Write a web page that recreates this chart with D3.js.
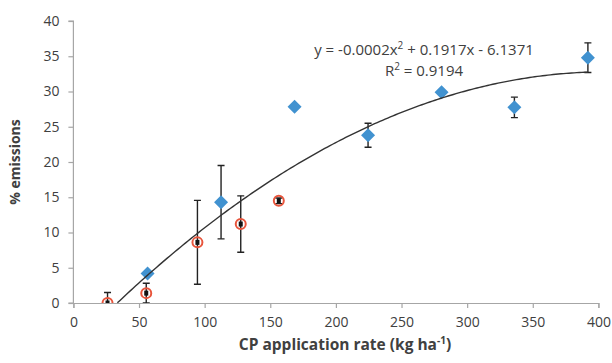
<!DOCTYPE html>
<html>
<head>
<meta charset="utf-8">
<script src="https://cdn.jsdelivr.net/npm/d3@7"></script>
<style>
  body { margin: 0; background: #fff; }
  text { font-family: 'Open Sans', sans-serif; fill: #404040; }
</style>
</head>
<body>
<div id="chart"></div>
<script>
// blue diamonds
const blueX = [56.5, 112.5, 168.5, 224.5, 280.5, 336, 392];
const blueY = [4.2, 14.3, 27.85, 23.8, 29.9, 27.75, 34.8];
const blueErr = [0, 5.2, 0, 1.7, 0.3, 1.45, 2.1];

// red circles (black marker inside)
const redX = [26, 55.5, 94.5, 127.5, 156.5];
const redY = [0, 1.4, 8.6, 11.2, 14.5];
const redErr = [1.5, 1.4, 5.95, 4, 0.4];

const xTicks = [0, 50, 100, 150, 200, 250, 300, 350, 400];
const yTicks = [0, 5, 10, 15, 20, 25, 30, 35, 40];

// polynomial trendline (a, b, c) and its range
const trendCoef = [-0.000236, 0.1917, -6.1371];
const trendRange = [33.5, 392];
const eqLabel = ['y = -0.0002x', '2', ' + 0.1917x - 6.1371'];
const r2Label = ['R', '2', ' = 0.9194'];

const margin = { top: 21, right: 14, bottom: 60, left: 73.4 };
const W = 612, H = 363;

const svg = d3.select('#chart').append('svg')
  .attr('width', W)
  .attr('height', H);

const g = svg.append('g')
  .attr('transform', `translate(${margin.left},${margin.top})`);

const x = d3.scaleLinear().domain([0, 400]).range([0, 525]);
const y = d3.scaleLinear().domain([0, 40]).range([282, 0]);

svg.append('clipPath').attr('id', 'plot')
  .append('rect').attr('x', -10).attr('y', -10).attr('width', 560).attr('height', 292);

// axes
const xAxis = g.append('g')
  .attr('transform', `translate(0,${y(0)})`)
  .call(d3.axisBottom(x).tickValues(xTicks).tickSize(5).tickPadding(9));
const yAxis = g.append('g')
  .call(d3.axisLeft(y).tickValues(yTicks).tickSize(5).tickPadding(9));
[xAxis, yAxis].forEach(a => {
  a.select('.domain').attr('stroke', '#a6a6a6').attr('stroke-width', 1.2);
  a.selectAll('.tick line').attr('stroke', '#a6a6a6').attr('stroke-width', 1.2);
  a.selectAll('.tick text').style('font-size', '14px').attr('fill', '#404040');
});
yAxis.select('.domain').attr('d', `M-5,${y(0)}H0V${y(40)}H-5`);

const plot = g.append('g').attr('clip-path', 'url(#plot)');

function errorBars(xs, ys, es) {
  const bars = plot.append('g').attr('stroke', '#222').attr('stroke-width', 1.4)
    .selectAll('g').data(xs.map((d, i) => ({ x: d, y: ys[i], e: es[i] })).filter(d => d.e > 0))
    .join('g');
  bars.append('line')
    .attr('x1', d => x(d.x)).attr('x2', d => x(d.x))
    .attr('y1', d => y(d.y - d.e)).attr('y2', d => y(d.y + d.e));
  [-1, 1].forEach(s => {
    bars.append('line')
      .attr('x1', d => x(d.x) - 3.5).attr('x2', d => x(d.x) + 3.5)
      .attr('y1', d => y(d.y + s * d.e)).attr('y2', d => y(d.y + s * d.e));
  });
}

errorBars(blueX, blueY, blueErr);
errorBars(redX, redY, redErr);

// blue diamonds
plot.append('g').selectAll('path').data(blueX)
  .join('path')
  .attr('transform', (d, i) => `translate(${x(d)},${y(blueY[i])})`)
  .attr('d', 'M0,-7L7,0L0,7L-7,0Z')
  .attr('fill', '#4192d0');

// black inner markers
plot.append('g').selectAll('rect').data(redX)
  .join('rect')
  .attr('x', d => x(d) - 2).attr('y', (d, i) => y(redY[i]) - 2.5)
  .attr('width', 4).attr('height', 5)
  .attr('fill', '#111');

// red circles
plot.append('g').selectAll('circle').data(redX)
  .join('circle')
  .attr('cx', d => x(d)).attr('cy', (d, i) => y(redY[i]))
  .attr('r', 5)
  .attr('fill', 'none')
  .attr('stroke', '#e8553c')
  .attr('stroke-width', 2);

// trendline
const trendXs = d3.range(trendRange[0], trendRange[1], 2).concat([trendRange[1]]);
const poly = v => trendCoef[0] * v * v + trendCoef[1] * v + trendCoef[2];
g.append('path')
  .datum(trendXs)
  .attr('fill', 'none')
  .attr('stroke', '#333')
  .attr('stroke-width', 1.4)
  .attr('d', d3.line().x(d => x(d)).y(d => y(poly(d))));

// equation text
function supText(parts, tx, ty) {
  const t = svg.append('text')
    .attr('x', tx).attr('y', ty)
    .attr('text-anchor', 'middle')
    .style('font-size', '15px');
  t.append('tspan').text(parts[0]);
  t.append('tspan').text(parts[1]).attr('dy', -6).style('font-size', '10px');
  t.append('tspan').text(parts[2]).attr('dy', 6);
}
supText(eqLabel, 424, 55);
supText(r2Label, 424, 76);

// axis titles
svg.append('text')
  .attr('x', 345).attr('y', 350)
  .attr('text-anchor', 'middle')
  .style('font-size', '15.5px').style('font-weight', 'bold')
  .call(t => {
    t.append('tspan').text('CP application rate (kg ha');
    t.append('tspan').text('-1').attr('dy', -6).style('font-size', '10px');
    t.append('tspan').text(')').attr('dy', 6);
  });

svg.append('text')
  .attr('transform', 'translate(20,162) rotate(-90)')
  .attr('text-anchor', 'middle')
  .style('font-size', '14px').style('font-weight', 'bold')
  .text('% emissions');
</script>
</body>
</html>
